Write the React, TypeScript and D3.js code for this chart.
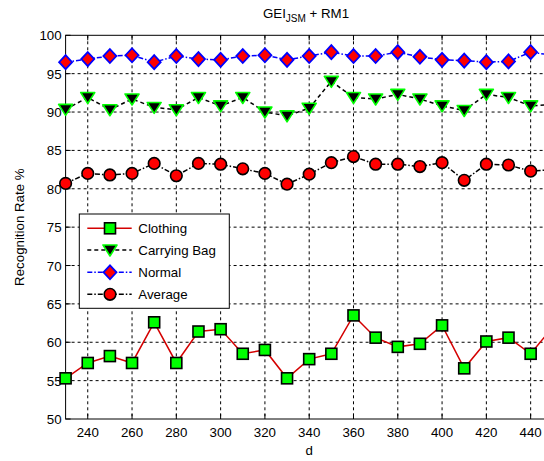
import React from "react";
import * as d3 from "d3";

const dValues = [230, 240, 250, 260, 270, 280, 290, 300, 310, 320, 330, 340, 350, 360, 370, 380, 390, 400, 410, 420, 430, 440, 450];
const clothing = [55.3, 57.3, 58.2, 57.3, 62.6, 57.3, 61.4, 61.7, 58.5, 59.0, 55.3, 57.8, 58.5, 63.5, 60.6, 59.4, 59.8, 62.2, 56.6, 60.1, 60.6, 58.5, 62.0];
const carryingBag = [90.35, 91.9, 90.3, 91.7, 90.6, 90.3, 91.9, 90.8, 91.9, 90.0, 89.5, 90.5, 94.0, 91.9, 91.7, 92.3, 91.7, 90.8, 90.2, 92.3, 91.9, 90.8, 91.0];
const normal = [96.5, 96.9, 97.3, 97.4, 96.5, 97.3, 96.9, 96.8, 97.3, 97.4, 96.8, 97.3, 97.8, 97.3, 97.3, 97.8, 97.2, 96.8, 96.7, 96.5, 96.6, 97.8, 97.4];
const average = [80.7, 82.0, 81.8, 82.0, 83.3, 81.7, 83.3, 83.2, 82.6, 82.0, 80.6, 81.9, 83.4, 84.2, 83.2, 83.2, 82.9, 83.4, 81.1, 83.2, 83.1, 82.3, 82.5];
const xTicks = [240, 260, 280, 300, 320, 340, 360, 380, 400, 420, 440];
const yTicks = [50, 55, 60, 65, 70, 75, 80, 85, 90, 95, 100];
const legendLabels = ["Clothing", "Carrying Bag", "Normal", "Average"];

const FONT = "'Liberation Sans', Arial, sans-serif";
const FS = 13.3;

const x = d3.scaleLinear().domain([230, 450]).range([65.6, 552.8]);
const y = d3.scaleLinear().domain([50, 100]).range([419, 35.3]);

type MarkerKind = "square" | "triangle" | "diamond" | "circle";

function Marker({ kind, cx, cy }: { kind: MarkerKind; cx: number; cy: number }) {
  if (kind === "square") {
    return <rect x={cx - 5.5} y={cy - 5.5} width={11} height={11} fill="#00ff00" stroke="#000" strokeWidth={1.6} />;
  }
  if (kind === "triangle") {
    const p = `${cx - 7},${cy - 5} ${cx + 7},${cy - 5} ${cx},${cy + 6}`;
    return <polygon points={p} fill="#000" stroke="#00ff00" strokeWidth={1.6} strokeLinejoin="round" />;
  }
  if (kind === "diamond") {
    const p = `${cx},${cy - 7} ${cx + 6.5},${cy} ${cx},${cy + 7} ${cx - 6.5},${cy}`;
    return <polygon points={p} fill="#ff0000" stroke="#0000ff" strokeWidth={1.8} />;
  }
  return <circle cx={cx} cy={cy} r={5.8} fill="#ff0000" stroke="#000" strokeWidth={1.6} />;
}

const seriesDefs: { values: number[]; color: string; dash: string; kind: MarkerKind }[] = [
  { values: clothing, color: "#d40000", dash: "", kind: "square" },
  { values: carryingBag, color: "#000", dash: "4,3", kind: "triangle" },
  { values: normal, color: "#0000ff", dash: "5,2,1.5,2", kind: "diamond" },
  { values: average, color: "#000", dash: "5,2,1.5,2", kind: "circle" },
];

export default function App() {
  const line = d3
    .line<number>()
    .x((_, i) => x(dValues[i]))
    .y((v) => y(v));
  const left = x(230);
  const right = x(450);
  const top = y(100);
  const bottom = y(50);
  const legX = 79.3;
  const legY = 214;
  const legRows = [228.3, 250, 272.3, 294.3];

  return (
    <svg
      width={544}
      height={461}
      style={{ position: "absolute", left: 0, top: 0, background: "#fff" }}
      fontFamily={FONT}
    >
      <rect x={0} y={0} width={544} height={461} fill="#fff" />
      {/* grid */}
      {xTicks.map((t) => (
        <line key={"gx" + t} x1={x(t)} x2={x(t)} y1={top} y2={bottom} stroke="#000" strokeWidth={1} strokeDasharray="3,3" />
      ))}
      {yTicks.slice(1, -1).map((t) => (
        <line key={"gy" + t} x1={left} x2={right} y1={y(t)} y2={y(t)} stroke="#000" strokeWidth={1} strokeDasharray="3,3" />
      ))}
      {/* ticks */}
      {xTicks.map((t) => (
        <g key={"tx" + t}>
          <line x1={x(t)} x2={x(t)} y1={bottom} y2={bottom - 5} stroke="#000" />
          <line x1={x(t)} x2={x(t)} y1={top} y2={top + 5} stroke="#000" />
          <text x={x(t)} y={bottom + 18} fontSize={FS} textAnchor="middle" fill="#000">
            {t}
          </text>
        </g>
      ))}
      {yTicks.map((t) => (
        <g key={"ty" + t}>
          <line x1={left} x2={left + 5} y1={y(t)} y2={y(t)} stroke="#000" />
          <text x={left - 4} y={y(t) + 5} fontSize={FS} textAnchor="end" fill="#000">
            {t}
          </text>
        </g>
      ))}
      {/* box */}
      <rect x={left} y={top} width={right - left} height={bottom - top} fill="none" stroke="#000" strokeWidth={1} />
      {/* series */}
      {seriesDefs.map((s, si) => (
        <g key={"s" + si}>
          <path d={line(s.values) || ""} fill="none" stroke={s.color} strokeWidth={1.5} strokeDasharray={s.dash || undefined} />
          {s.values.map((v, i) => (
            <Marker key={i} kind={s.kind} cx={x(dValues[i])} cy={y(v)} />
          ))}
        </g>
      ))}
      {/* legend */}
      <rect x={legX} y={legY} width={150} height={94.3} fill="#fff" stroke="#000" strokeWidth={1} />
      {legendLabels.map((lab, i) => {
        const s = seriesDefs[i];
        const ly = legRows[i];
        return (
          <g key={"l" + i}>
            <line x1={87.3} x2={131.7} y1={ly} y2={ly} stroke={s.color} strokeWidth={1.5} strokeDasharray={s.dash || undefined} />
            <Marker kind={s.kind} cx={110} cy={ly} />
            <text x={138.3} y={ly + 5} fontSize={FS} fill="#000">
              {lab}
            </text>
          </g>
        );
      })}
      {/* title */}
      <text x={306} y={18} fontSize={FS} textAnchor="middle" fill="#000">
        GEI
        <tspan fontSize={10} dy={4}>JSM</tspan>
        <tspan dy={-4}> + RM1</tspan>
      </text>
      {/* axis labels */}
      <text x={(left + right) / 2} y={455} fontSize={FS} textAnchor="middle" fill="#000">
        d
      </text>
      <text transform={`translate(24,${(top + bottom) / 2}) rotate(-90)`} fontSize={FS} textAnchor="middle" fill="#000">
        Recognition Rate %
      </text>
    </svg>
  );
}
